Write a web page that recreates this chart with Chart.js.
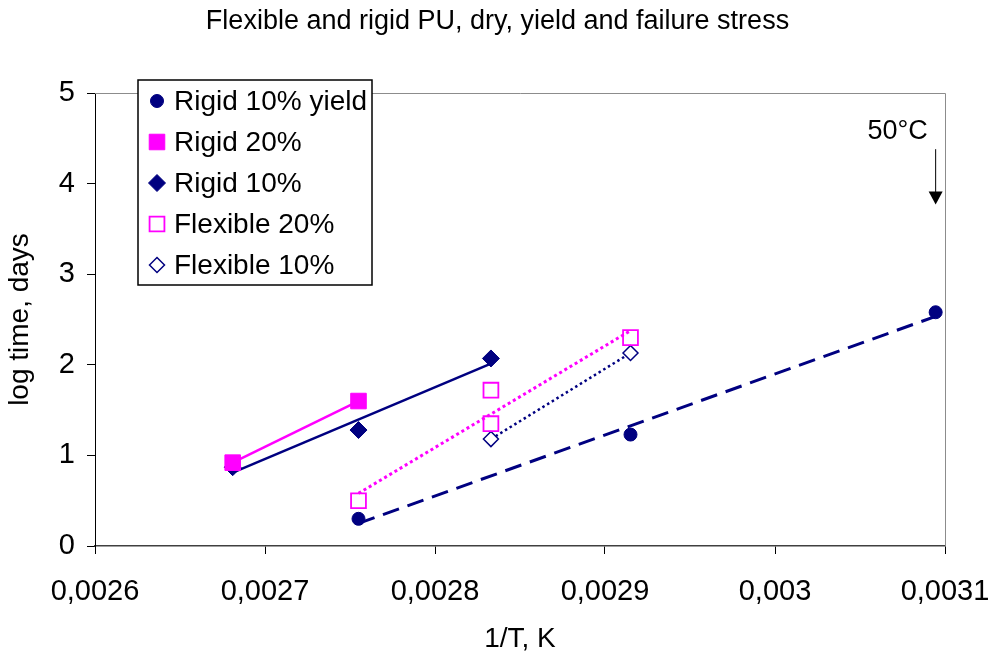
<!DOCTYPE html>
<html>
<head>
<meta charset="utf-8">
<script src="https://cdn.jsdelivr.net/npm/chart.js@4.4.0/dist/chart.umd.min.js"></script>
<style>
  html, body { margin: 0; padding: 0; background: #fff; }
  #wrap { width: 995px; height: 656px; position: relative; }
</style>
</head>
<body>
<div id="wrap"><canvas id="stressChart"></canvas></div>
<script>
// 1/T (K^-1) for 100, 90, 80, 70 and 50 °C; values are log time in days
const yieldX = [0.002755, 0.002915, 0.0030945];
const yieldY = [0.30, 1.23, 2.58];
const rigid20X = [0.002681, 0.002755];
const rigid20Y = [0.92, 1.60];
const rigid10X = [0.002681, 0.002755, 0.0028329];
const rigid10Y = [0.87, 1.28, 2.07];
const flex20X = [0.002755, 0.0028329, 0.0028329, 0.002915];
const flex20Y = [0.50, 1.72, 1.35, 2.30];
const flex10X = [0.0028329, 0.002915];
const flex10Y = [1.18, 2.13];

const seriesLabels = ['Rigid 10% yield', 'Rigid 20%', 'Rigid 10%', 'Flexible 20%', 'Flexible 10%'];
const xTicks = [0.0026, 0.0027, 0.0028, 0.0029, 0.003, 0.0031];
const yTicks = [0, 1, 2, 3, 4, 5];

// annotation: arrow at 50°C
const noteText = '50°C';
const noteX = 0.0030945;
const noteArrow = [4.38, 3.77];
const noteTextY = 4.57;

const NAVY = '#000080';
const PINK = '#FF00FF';
const FONT = "'Liberation Sans', Arial, sans-serif";

const toPoints = (xs, ys) => xs.map((x, i) => ({ x: x, y: ys[i] }));

// Least-squares trendline spanning the data range (as Excel draws it)
function trendPoints(xs, ys) {
  const n = xs.length;
  const mx = xs.reduce((a, b) => a + b, 0) / n;
  const my = ys.reduce((a, b) => a + b, 0) / n;
  let sxy = 0, sxx = 0;
  xs.forEach((x, i) => {
    sxy += (x - mx) * (ys[i] - my);
    sxx += (x - mx) * (x - mx);
  });
  const slope = sxy / sxx;
  const lo = Math.min(...xs), hi = Math.max(...xs);
  return [lo, hi].map((x) => ({ x: x, y: my + slope * (x - mx) }));
}

const markerSets = [
  { label: seriesLabels[0], data: toPoints(yieldX, yieldY), pointStyle: 'circle', pointRadius: 6.5,
    backgroundColor: NAVY, borderColor: NAVY, pointBorderWidth: 1 },
  { label: seriesLabels[1], data: toPoints(rigid20X, rigid20Y), pointStyle: 'rect', pointRadius: 11,
    backgroundColor: PINK, borderColor: PINK, pointBorderWidth: 1 },
  { label: seriesLabels[2], data: toPoints(rigid10X, rigid10Y), pointStyle: 'rectRot', pointRadius: 8.5,
    backgroundColor: NAVY, borderColor: NAVY, pointBorderWidth: 1 },
  { label: seriesLabels[3], data: toPoints(flex20X, flex20Y), pointStyle: 'rect', pointRadius: 10.5,
    backgroundColor: 'rgba(255,255,255,0)', borderColor: PINK, pointBorderWidth: 1.8 },
  { label: seriesLabels[4], data: toPoints(flex10X, flex10Y), pointStyle: 'rectRot', pointRadius: 7.5,
    backgroundColor: '#fff', borderColor: NAVY, pointBorderWidth: 1.5 },
].map((d) => Object.assign(d, { showLine: false, order: 1, pointHoverRadius: d.pointRadius }));

const trendSets = [
  { data: trendPoints(yieldX, yieldY), borderColor: NAVY, borderWidth: 3, borderDash: [17, 9] },
  { data: trendPoints(rigid20X, rigid20Y), borderColor: PINK, borderWidth: 2.5 },
  { data: trendPoints(rigid10X, rigid10Y), borderColor: NAVY, borderWidth: 2.5 },
  { data: trendPoints(flex20X, flex20Y), borderColor: PINK, borderWidth: 3, borderDash: [3, 3] },
  { data: trendPoints(flex10X, flex10Y), borderColor: NAVY, borderWidth: 2.5, borderDash: [2.5, 3] },
].map((d) => Object.assign(d, { label: '', showLine: true, pointRadius: 0, order: 2, fill: false }));

// Gray frame, legend box and the 50°C arrow
const framePlugin = {
  id: 'frame',
  beforeDraw(chart) {
    const { ctx, width, height } = chart;
    ctx.save();
    ctx.fillStyle = '#fff';
    ctx.fillRect(0, 0, width, height);
    ctx.restore();
  },
  beforeDatasetsDraw(chart) {
    const { ctx, chartArea: a } = chart;
    ctx.save();
    ctx.strokeStyle = '#8c8c8c';
    ctx.lineWidth = 1;
    ctx.beginPath();
    ctx.moveTo(a.left, a.top + 0.5);
    ctx.lineTo(a.right + 0.5, a.top + 0.5);
    ctx.lineTo(a.right + 0.5, a.bottom);
    ctx.stroke();
    ctx.restore();
  },
  afterDraw(chart) {
    const { ctx } = chart;
    const xs = chart.scales.x, ys = chart.scales.y;

    // legend
    const box = { left: 138, top: 80, width: 234, height: 205 };
    ctx.save();
    ctx.fillStyle = '#fff';
    ctx.fillRect(box.left, box.top, box.width, box.height);
    ctx.strokeStyle = '#000';
    ctx.lineWidth = 1.5;
    ctx.strokeRect(box.left, box.top, box.width, box.height);
    ctx.font = '28px ' + FONT;
    ctx.textBaseline = 'middle';
    markerSets.forEach((d, i) => {
      const cy = box.top + 21 + i * 41;
      ctx.fillStyle = d.backgroundColor;
      ctx.strokeStyle = d.borderColor;
      ctx.lineWidth = d.pointBorderWidth;
      Chart.helpers.drawPoint(ctx, {
        pointStyle: d.pointStyle, rotation: 0,
        radius: d.pointRadius, borderWidth: d.pointBorderWidth,
      }, box.left + 19, cy);
      ctx.fillStyle = '#000';
      ctx.fillText(d.label, box.left + 36, cy + 1);
    });

    // arrow
    const ax = xs.getPixelForValue(noteX);
    const y0 = ys.getPixelForValue(noteArrow[0]);
    const y1 = ys.getPixelForValue(noteArrow[1]);
    ctx.strokeStyle = '#000';
    ctx.fillStyle = '#000';
    ctx.lineWidth = 1;
    ctx.beginPath();
    ctx.moveTo(ax, y0);
    ctx.lineTo(ax, y1 - 12);
    ctx.stroke();
    ctx.beginPath();
    ctx.moveTo(ax - 7, y1 - 13);
    ctx.lineTo(ax + 7, y1 - 13);
    ctx.lineTo(ax, y1);
    ctx.closePath();
    ctx.fill();
    ctx.font = '27px ' + FONT;
    ctx.textAlign = 'center';
    ctx.fillText(noteText, ax - 38, ys.getPixelForValue(noteTextY));
    ctx.restore();
  },
};

const fmtX = (v) => String(Number(v.toFixed(4))).replace('.', ',');

new Chart(document.getElementById('stressChart'), {
  type: 'scatter',
  data: { datasets: [...markerSets, ...trendSets] },
  options: {
    responsive: true,
    maintainAspectRatio: false,
    animation: false,
    layout: { padding: 0 },
    plugins: {
      legend: { display: false },
      tooltip: { enabled: false },
      title: {
        display: true,
        text: 'Flexible and rigid PU, dry, yield and failure stress',
        color: '#000',
        font: { family: FONT, size: 27, weight: 'normal' },
        padding: { top: 5.8, bottom: 54.8 },
      },
    },
    scales: {
      x: {
        type: 'linear',
        min: xTicks[0],
        max: xTicks[xTicks.length - 1],
        afterBuildTicks: (axis) => { axis.ticks = xTicks.map((v) => ({ value: v })); },
        afterFit: (axis) => {
          axis.height = 110;
          axis.paddingLeft = 0;
          axis.paddingRight = 50;
        },
        grid: { drawOnChartArea: false, tickLength: 8, color: '#000' },
        border: { color: '#404040', width: 1.5 },
        ticks: { color: '#000', padding: 21, font: { family: FONT, size: 29 }, callback: fmtX, maxRotation: 0 },
        title: { display: true, text: '1/T, K', color: '#000', font: { family: FONT, size: 28 }, padding: { top: 0, bottom: 0 } },
      },
      y: {
        min: yTicks[0],
        max: yTicks[yTicks.length - 1],
        afterBuildTicks: (axis) => { axis.ticks = yTicks.map((v) => ({ value: v })); },
        afterFit: (axis) => {
          axis.width = 95;
          axis.paddingTop = 0;
          axis.paddingBottom = 0;
        },
        grid: { drawOnChartArea: false, tickLength: 8, color: '#000' },
        border: { color: '#000', width: 1 },
        ticks: { color: '#000', padding: 12, font: { family: FONT, size: 29 } },
        title: { display: true, text: 'log time, days', color: '#000', font: { family: FONT, size: 28 }, padding: { top: 3.2, bottom: 0 } },
      },
    },
  },
  plugins: [framePlugin],
});
</script>
</body>
</html>
